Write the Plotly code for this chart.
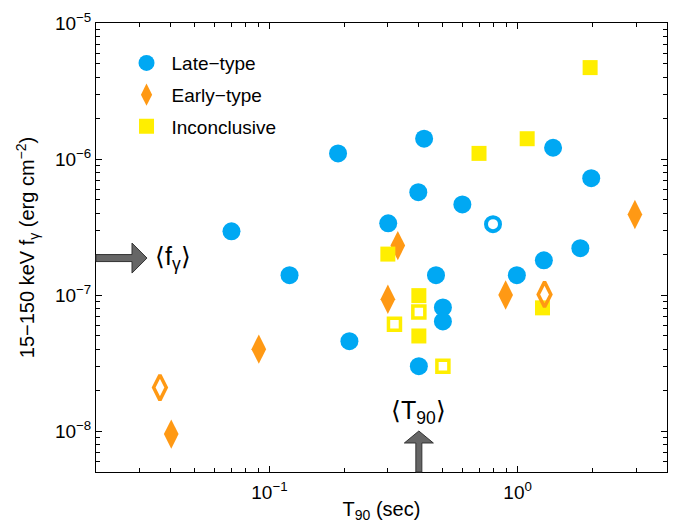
import math
import plotly.graph_objects as go

# ---------------- data ----------------
late_t90 = [0.0703, 0.1205, 0.189, 0.21, 0.301, 0.42, 0.398, 0.599, 1.39, 1.98,
            1.79, 1.276, 0.993, 0.469, 0.50, 0.50, 0.40]
late_f = [2.94e-7, 1.40e-7, 1.10e-6, 4.58e-8, 3.37e-7, 1.41e-6, 5.70e-7, 4.64e-7,
          1.21e-6, 7.23e-7, 2.21e-7, 1.80e-7, 1.40e-7, 1.40e-7, 8.1e-8, 6.4e-8, 3.0e-8]
late_open_t90 = [0.796]
late_open_f = [3.32e-7]

early_t90 = [0.0402, 0.0906, 0.30, 0.329, 0.895, 2.97]
early_f = [9.5e-9, 4.0e-8, 9.3e-8, 2.31e-7, 1.0e-7, 3.91e-7]
early_open_t90 = [0.0362, 1.284]
early_open_f = [2.09e-8, 1.01e-7]

inc_t90 = [1.96, 0.699, 1.093, 0.30, 0.40, 0.40, 1.26]
inc_f = [4.70e-6, 1.10e-6, 1.41e-6, 2.0e-7, 9.9e-8, 5.0e-8, 8.05e-8]
inc_open_t90 = [0.40, 0.319, 0.50]
inc_open_f = [7.5e-8, 6.1e-8, 3.0e-8]

t90_mean = 0.40
fgamma_mean = 1.87e-7

x_range = [0.02, 4.0]
y_range = [5e-9, 1e-5]
x_tickvals = [0.1, 1.0]
x_ticktext = ["10<sup>−1</sup>", "10<sup>0</sup>"]
y_tickvals = [1e-8, 1e-7, 1e-6, 1e-5]
y_ticktext = ["10<sup>−8</sup>", "10<sup>−7</sup>", "10<sup>−6</sup>", "10<sup>−5</sup>"]

# ---------------- style ----------------
BLUE = "#00A8F3"
ORANGE = "#FF9914"
YELLOW = "#FFEE00"
FONT = "Liberation Sans, Arial, Helvetica, sans-serif"

FIG_W, FIG_H = 678, 523
ML, MR, MT, MB = 96, 11, 23, 51
PW = FIG_W - ML - MR
PH = FIG_H - MT - MB

fig = go.Figure()

fig.add_trace(go.Scatter(x=late_t90, y=late_f, mode="markers", name="Late−type", legendgroup="a",
                         marker=dict(symbol="circle", size=18, color=BLUE, line=dict(width=0))))
fig.add_trace(go.Scatter(x=early_t90, y=early_f, mode="markers", name="Early−type", legendgroup="b",
                         marker=dict(symbol="diamond-tall", size=21, color=ORANGE, line=dict(width=0))))
fig.add_trace(go.Scatter(x=inc_t90, y=inc_f, mode="markers", name="Inconclusive", legendgroup="c",
                         marker=dict(symbol="square", size=15, color=YELLOW, line=dict(width=0))))
fig.add_trace(go.Scatter(x=late_open_t90, y=late_open_f, mode="markers", showlegend=False, legendgroup="a",
                         marker=dict(symbol="circle-open", size=14, color=BLUE, line=dict(width=4, color=BLUE))))
fig.add_trace(go.Scatter(x=early_open_t90, y=early_open_f, mode="markers", showlegend=False, legendgroup="b",
                         marker=dict(symbol="diamond-tall-open", size=18, color=ORANGE, line=dict(width=3.5, color=ORANGE))))
fig.add_trace(go.Scatter(x=inc_open_t90, y=inc_open_f, mode="markers", showlegend=False, legendgroup="c",
                         marker=dict(symbol="square-open", size=12, color=YELLOW, line=dict(width=3.5, color=YELLOW))))


def xpaper(v):
    return (math.log10(v) - math.log10(x_range[0])) / (math.log10(x_range[1]) - math.log10(x_range[0]))


def ypaper(v):
    return (math.log10(v) - math.log10(y_range[0])) / (math.log10(y_range[1]) - math.log10(y_range[0]))


dx = 1.0 / PW
dy = 1.0 / PH

# left arrow at mean fluence
y0 = ypaper(fgamma_mean)
sh, hh, sl, hl = 3.5, 15, 36, 51
pts = [(0, y0 + sh * dy), (sl * dx, y0 + sh * dy), (sl * dx, y0 + hh * dy), (hl * dx, y0),
       (sl * dx, y0 - hh * dy), (sl * dx, y0 - sh * dy), (0, y0 - sh * dy)]
path_left = "M " + " L ".join(f"{a:.5f},{b:.5f}" for a, b in pts) + " Z"

# bottom arrow at mean T90
x0 = xpaper(t90_mean)
sw, hw, sl2, hl2 = 3, 14.5, 29, 41
pts2 = [(x0 - sw * dx, 0), (x0 - sw * dx, sl2 * dy), (x0 - hw * dx, sl2 * dy), (x0, hl2 * dy),
        (x0 + hw * dx, sl2 * dy), (x0 + sw * dx, sl2 * dy), (x0 + sw * dx, 0)]
path_bottom = "M " + " L ".join(f"{a:.5f},{b:.5f}" for a, b in pts2) + " Z"

for p in (path_left, path_bottom):
    fig.add_shape(type="path", path=p, xref="paper", yref="paper",
                  fillcolor="#666666", line=dict(color="#333333", width=1), layer="above")

fig.add_annotation(x=(hl + 6) * dx, y=y0, xref="paper", yref="paper",
                   text="⟨f<sub>γ</sub>⟩", showarrow=False, xanchor="left", yanchor="middle",
                   font=dict(family=FONT, size=25, color="black"))
fig.add_annotation(x=x0, y=(hl2 + 1) * dy, xref="paper", yref="paper",
                   text="⟨T<sub>90</sub>⟩", showarrow=False, xanchor="center", yanchor="bottom",
                   font=dict(family=FONT, size=25, color="black"))

minor_x = [m * 10 ** e for e in range(-2, 1) for m in range(2, 10) if x_range[0] <= m * 10 ** e <= x_range[1]]
minor_y = [m * 10 ** e for e in range(-9, -5) for m in range(2, 10) if y_range[0] <= m * 10 ** e <= y_range[1]]

axis_common = dict(showline=True, linecolor="black", linewidth=1, mirror="ticks",
                   ticks="inside", ticklen=6, tickcolor="black", showgrid=False, zeroline=False,
                   tickfont=dict(family=FONT, size=19, color="black"))

fig.update_xaxes(type="log", range=[math.log10(x_range[0]), math.log10(x_range[1])],
                 tickvals=x_tickvals, ticktext=x_ticktext, ticklabelstandoff=3,
                 minor=dict(tickvals=minor_x, ticks="inside", ticklen=4, tickcolor="black"),
                 title=dict(text="T<sub>90</sub> (sec)", font=dict(family=FONT, size=20, color="black"), standoff=0),
                 **axis_common)
fig.update_yaxes(type="log", range=[math.log10(y_range[0]), math.log10(y_range[1])],
                 tickvals=y_tickvals, ticktext=y_ticktext,
                 minor=dict(tickvals=minor_y, ticks="inside", ticklen=4, tickcolor="black"),
                 title=dict(text="15−150 keV f<sub>γ</sub> (erg cm<sup>−2</sup>)",
                            font=dict(family=FONT, size=20, color="black"), standoff=14),
                 **axis_common)

fig.update_layout(
    width=FIG_W, height=FIG_H,
    margin=dict(l=ML, r=MR, t=MT, b=MB, autoexpand=False),
    paper_bgcolor="white", plot_bgcolor="white",
    font=dict(family=FONT, size=19, color="black"),
    showlegend=True,
    legend=dict(x=0.0447, y=0.953, xanchor="left", yanchor="top", bgcolor="rgba(0,0,0,0)",
                borderwidth=0, font=dict(family=FONT, size=19, color="black"), itemwidth=40,
                itemsizing="trace", tracegroupgap=4),
)

fig.write_html("out.html", config={"displayModeBar": False},
               post_script="document.body.style.margin='0px';")
